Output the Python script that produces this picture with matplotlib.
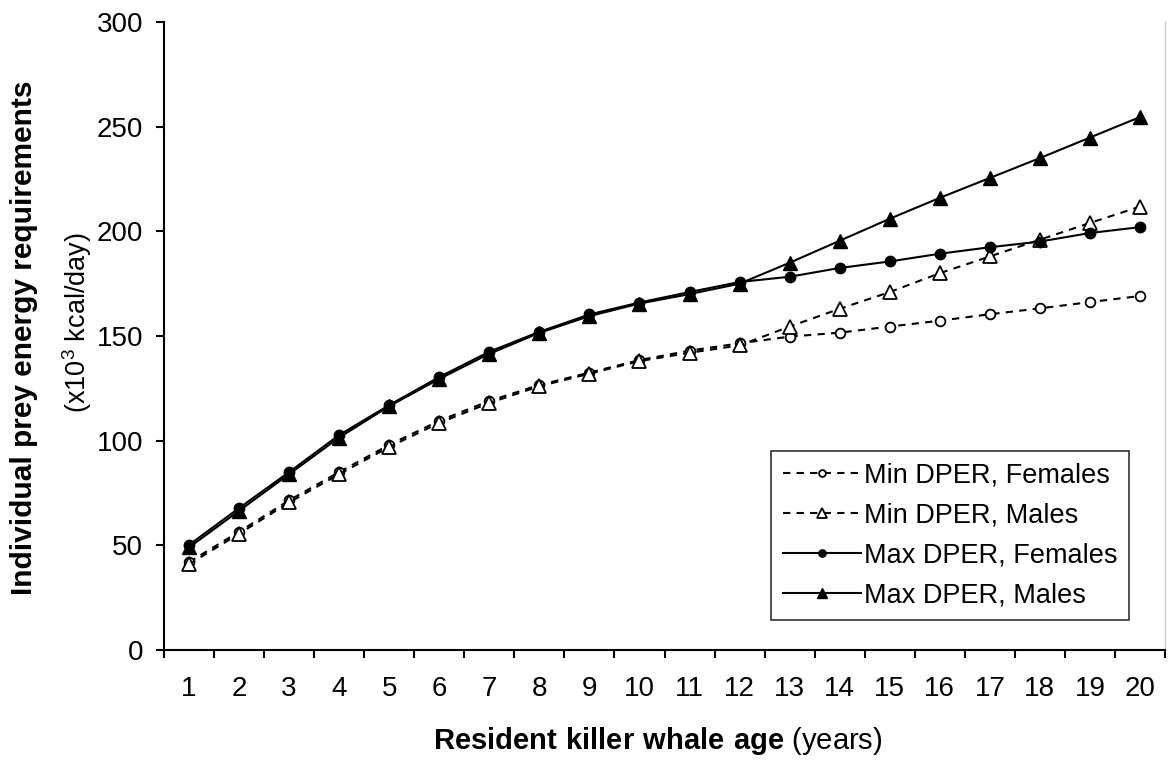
import matplotlib
matplotlib.use('Agg')
import matplotlib.pyplot as plt
import numpy as np

plt.rcParams['font.family'] = ['Liberation Sans', 'DejaVu Sans']
plt.rcParams['mathtext.fontset'] = 'custom'
plt.rcParams['mathtext.rm'] = 'Liberation Sans'
plt.rcParams['mathtext.bf'] = 'Liberation Sans:bold'

ages = list(range(1, 21))

# values (x10^3 kcal/day)
min_females = [42, 56.5, 71.5, 85, 98, 109.5, 119, 126.6, 132.5, 138.5,
               143, 146.5, 149.7, 151.6, 154.5, 157.3, 160.4, 163.2, 166.2, 169.1]
min_males = [41, 55.5, 70.5, 84, 97, 108.5, 118, 126, 132, 138,
             142, 145.5, 154.5, 163, 171, 180, 188, 196, 204, 211.8]
max_females = [50.2, 67.8, 85, 102.7, 117, 130.4, 142.5, 152, 160.3, 166,
               171, 175.8, 178.3, 182.5, 185.6, 189.3, 192.4, 195.1, 199.2, 202]
max_males = [49, 66.5, 84, 101.5, 116.5, 129.5, 141.5, 151.5, 159.5, 165.5,
             170, 175, 185, 195.5, 206, 216, 225.5, 235, 244.8, 254.6]

W, H = 1171, 763
fig = plt.figure(figsize=(W / 100, H / 100), dpi=100)
ax = fig.add_axes([164 / W, (H - 650) / H, 1001 / W, 628 / H])

dash = (0, (3.5, 3))
ax.plot(ages, min_females, color='black', lw=1.5, linestyle=dash, marker='o',
        markersize=7, markerfacecolor='white', markeredgecolor='black',
        markeredgewidth=1.3, label='Min DPER, Females')
ax.plot(ages, min_males, color='black', lw=1.5, linestyle=dash, marker='^',
        markersize=9.5, markerfacecolor='white', markeredgecolor='black',
        markeredgewidth=1.3, label='Min DPER, Males')
ax.plot(ages, max_females, color='black', lw=1.5, linestyle='-', marker='o',
        markersize=7.5, markerfacecolor='black', markeredgecolor='black',
        label='Max DPER, Females')
ax.plot(ages, max_males, color='black', lw=1.5, linestyle='-', marker='^',
        markersize=9.5, markerfacecolor='black', markeredgecolor='black',
        label='Max DPER, Males')

ax.set_xlim(0.5, 20.5)
ax.set_ylim(0, 300)
ax.set_yticks(np.arange(0, 301, 50))
ax.set_xticks(ages)
ax.set_xticks(np.arange(0.5, 21, 1), minor=True)
ax.tick_params(axis='x', which='major', length=0, labelsize=20, pad=19)
ax.tick_params(axis='x', which='minor', length=6, width=1.5, direction='out')
ax.tick_params(axis='y', length=6, width=1.5, direction='out', labelsize=20, pad=9)

ax.spines['top'].set_visible(False)
ax.spines['right'].set_color('#c8c8c8')
ax.spines['right'].set_linewidth(1)
ax.spines['left'].set_linewidth(1.5)
ax.spines['bottom'].set_linewidth(1.5)

fig.text(658 / W, (H - 741) / H, r'$\bf{Resident\ killer\ whale\ age}$ (years)',
         fontsize=21, ha='center', va='center')
fig.text(24 / W, (H - 338) / H, 'Individual prey energy requirements',
         fontsize=21.5, fontweight='bold', rotation=90, ha='center', va='center')
fig.text(77 / W, (H - 323) / H, r'(x10$^3$ kcal/day)',
         fontsize=19.5, rotation=90, ha='center', va='center')

leg = ax.legend(loc='lower right', bbox_to_anchor=(0.964, 0.048), fontsize=19.5,
                frameon=True, fancybox=False, edgecolor='black', handlelength=2.9,
                borderpad=0.42, labelspacing=0.52, handletextpad=0.1,
                borderaxespad=0)
leg.get_frame().set_linewidth(1.2)
for h in leg.legend_handles:
    h.set_markersize(h.get_markersize() * 0.7)

fig.savefig('out.png', dpi=100, facecolor='white')
